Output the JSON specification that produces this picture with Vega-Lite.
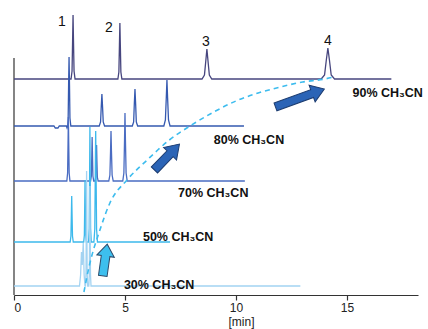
{
  "$schema": "https://vega.github.io/schema/vega-lite/v6.json",
  "width": 404,
  "height": 290,
  "autosize": "none",
  "padding": {"left": 14, "top": 5, "right": 10, "bottom": 34},
  "background": "white",
  "config": {"view": {"stroke": null}},
  "datasets": {
    "traces": [
      {"s":"90","t":0,"v":216},{"s":"90","t":2.57,"v":216},{"s":"90","t":2.615,"v":224},{"s":"90","t":2.64,"v":254},{"s":"90","t":2.66,"v":280},{"s":"90","t":2.68,"v":254},{"s":"90","t":2.705,"v":224},{"s":"90","t":2.75,"v":216},
      {"s":"90","t":4.68,"v":216},{"s":"90","t":4.725,"v":223},{"s":"90","t":4.75,"v":250},{"s":"90","t":4.77,"v":272},{"s":"90","t":4.79,"v":250},{"s":"90","t":4.815,"v":223},{"s":"90","t":4.86,"v":216},
      {"s":"90","t":8.47,"v":216},{"s":"90","t":8.58,"v":220},{"s":"90","t":8.64,"v":234},{"s":"90","t":8.69,"v":246},{"s":"90","t":8.74,"v":234},{"s":"90","t":8.8,"v":220},{"s":"90","t":8.91,"v":216},
      {"s":"90","t":13.84,"v":216},{"s":"90","t":13.99,"v":220},{"s":"90","t":14.07,"v":235},{"s":"90","t":14.14,"v":247},{"s":"90","t":14.21,"v":235},{"s":"90","t":14.29,"v":220},{"s":"90","t":14.44,"v":216},
      {"s":"90","t":17.0,"v":216},

      {"s":"80","t":0,"v":169},{"s":"80","t":1.8,"v":169},{"s":"80","t":1.86,"v":167},{"s":"80","t":1.98,"v":167},{"s":"80","t":2.04,"v":169},{"s":"80","t":2.36,"v":169},{"s":"80","t":2.39,"v":167},{"s":"80","t":2.42,"v":169},{"s":"80","t":2.44,"v":177},{"s":"80","t":2.46,"v":210},{"s":"80","t":2.48,"v":238},{"s":"80","t":2.5,"v":210},{"s":"80","t":2.52,"v":177},{"s":"80","t":2.56,"v":169},
      {"s":"80","t":3.84,"v":169},{"s":"80","t":3.9,"v":173},{"s":"80","t":3.93,"v":188},{"s":"80","t":3.96,"v":201},{"s":"80","t":3.99,"v":188},{"s":"80","t":4.02,"v":173},{"s":"80","t":4.08,"v":169},
      {"s":"80","t":5.33,"v":169},{"s":"80","t":5.39,"v":173},{"s":"80","t":5.42,"v":191},{"s":"80","t":5.45,"v":206},{"s":"80","t":5.48,"v":191},{"s":"80","t":5.51,"v":173},{"s":"80","t":5.57,"v":169},
      {"s":"80","t":6.75,"v":169},{"s":"80","t":6.82,"v":175},{"s":"80","t":6.86,"v":197},{"s":"80","t":6.89,"v":215},{"s":"80","t":6.92,"v":197},{"s":"80","t":6.96,"v":175},{"s":"80","t":7.03,"v":169},
      {"s":"80","t":10.36,"v":169},

      {"s":"70","t":0,"v":114},{"s":"70","t":2.38,"v":114},{"s":"70","t":2.415,"v":122},{"s":"70","t":2.435,"v":152},{"s":"70","t":2.45,"v":178},{"s":"70","t":2.465,"v":152},{"s":"70","t":2.485,"v":122},{"s":"70","t":2.52,"v":114},
      {"s":"70","t":3.45,"v":114},{"s":"70","t":3.485,"v":119},{"s":"70","t":3.505,"v":140},{"s":"70","t":3.52,"v":158},{"s":"70","t":3.535,"v":140},{"s":"70","t":3.555,"v":119},{"s":"70","t":3.59,"v":114},
      {"s":"70","t":3.65,"v":114},{"s":"70","t":3.685,"v":118},{"s":"70","t":3.705,"v":134},{"s":"70","t":3.72,"v":150},{"s":"70","t":3.735,"v":134},{"s":"70","t":3.755,"v":118},{"s":"70","t":3.79,"v":114},
      {"s":"70","t":4.27,"v":114},{"s":"70","t":4.32,"v":120},{"s":"70","t":4.35,"v":144},{"s":"70","t":4.37,"v":164},{"s":"70","t":4.39,"v":144},{"s":"70","t":4.42,"v":120},{"s":"70","t":4.47,"v":114},
      {"s":"70","t":4.9,"v":114},{"s":"70","t":4.95,"v":122},{"s":"70","t":4.98,"v":155},{"s":"70","t":5.0,"v":182},{"s":"70","t":5.02,"v":155},{"s":"70","t":5.05,"v":122},{"s":"70","t":5.1,"v":114},
      {"s":"70","t":10.4,"v":114},

      {"s":"50","t":0,"v":53},{"s":"50","t":2.53,"v":53},{"s":"50","t":2.565,"v":59},{"s":"50","t":2.585,"v":81},{"s":"50","t":2.6,"v":99},{"s":"50","t":2.615,"v":81},{"s":"50","t":2.635,"v":59},{"s":"50","t":2.67,"v":53},
      {"s":"50","t":3.14,"v":53},{"s":"50","t":3.17,"v":60},{"s":"50","t":3.187,"v":90},{"s":"50","t":3.2,"v":115},{"s":"50","t":3.213,"v":90},{"s":"50","t":3.23,"v":60},{"s":"50","t":3.26,"v":53},
      {"s":"50","t":3.36,"v":53},{"s":"50","t":3.39,"v":67},{"s":"50","t":3.407,"v":122},{"s":"50","t":3.42,"v":168},{"s":"50","t":3.433,"v":122},{"s":"50","t":3.45,"v":67},{"s":"50","t":3.48,"v":53},
      {"s":"50","t":3.6,"v":53},{"s":"50","t":3.64,"v":66},{"s":"50","t":3.662,"v":120},{"s":"50","t":3.68,"v":164},{"s":"50","t":3.698,"v":120},{"s":"50","t":3.72,"v":66},{"s":"50","t":3.76,"v":53},
      {"s":"50","t":7.03,"v":53},

      {"s":"30","t":0,"v":9},{"s":"30","t":2.95,"v":9},{"s":"30","t":3.0,"v":20},{"s":"30","t":3.04,"v":43},{"s":"30","t":3.075,"v":30},{"s":"30","t":3.12,"v":52},{"s":"30","t":3.16,"v":20},{"s":"30","t":3.2,"v":9},
      {"s":"30","t":3.22,"v":9},{"s":"30","t":3.245,"v":23},{"s":"30","t":3.26,"v":75},{"s":"30","t":3.27,"v":124},{"s":"30","t":3.28,"v":75},{"s":"30","t":3.295,"v":23},{"s":"30","t":3.32,"v":9},
      {"s":"30","t":3.37,"v":9},{"s":"30","t":3.395,"v":21},{"s":"30","t":3.41,"v":69},{"s":"30","t":3.42,"v":109},{"s":"30","t":3.43,"v":69},{"s":"30","t":3.445,"v":21},{"s":"30","t":3.47,"v":9},
      {"s":"30","t":12.9,"v":9}
    ],
    "curve": [
      {"t":3.15,"v":3},{"t":3.4,"v":30},{"t":3.87,"v":65},{"t":4.32,"v":92},{"t":5.09,"v":115},{"t":6.0,"v":135},{"t":7.0,"v":155},{"t":8.0,"v":170},{"t":9.0,"v":183},{"t":10.0,"v":194},{"t":11.0,"v":202},{"t":12.0,"v":208},{"t":13.0,"v":213},{"t":14.0,"v":216},{"t":14.4,"v":218}
    ],
    "arrows": [
      {"a":"up","t":4.1,"v":35},
      {"a":"mid","t":6.89,"v":138},
      {"a":"top","t":12.88,"v":197}
    ],
    "labels": [
      {"label":"90% CH₃CN","t":15.25,"v":202},
      {"label":"80% CH₃CN","t":9.0,"v":155},
      {"label":"70% CH₃CN","t":7.39,"v":102},
      {"label":"50% CH₃CN","t":5.81,"v":58},
      {"label":"30% CH₃CN","t":4.95,"v":10}
    ],
    "peaks": [
      {"n":"1","t":2.16,"v":273},
      {"n":"2","t":4.28,"v":267},
      {"n":"3","t":8.65,"v":253},
      {"n":"4","t":14.14,"v":254}
    ],
    "yaxis": [{"t":0,"v":0,"v2":237}]
  },
  "encoding": {
    "x": {
      "field": "t", "type": "quantitative",
      "scale": {"domain": [0, 18.2], "nice": false, "zero": false},
      "axis": {
        "values": [0, 5, 10, 15], "grid": false,
        "domainColor": "#333", "domainWidth": 1.2,
        "tickColor": "#333", "tickSize": 5, "tickWidth": 1.2,
        "labelFont": "Liberation Sans", "labelFontSize": 12, "labelColor": "#222", "labelPadding": 2,
        "title": "[min]", "titleFont": "Liberation Sans", "titleFontSize": 12, "titleFontWeight": "normal", "titleColor": "#222",
        "titleX": 227, "titleY": 21, "titleAlign": "center", "titleBaseline": "top"
      }
    },
    "y": {
      "field": "v", "type": "quantitative",
      "scale": {"domain": [0, 290], "nice": false, "zero": false},
      "axis": null
    }
  },
  "layer": [
    {
      "data": {"name": "yaxis"},
      "mark": {"type": "rule", "color": "#333", "strokeWidth": 1.2},
      "encoding": {"y2": {"field": "v2"}}
    },
    {
      "data": {"name": "traces"},
      "mark": {"type": "line", "strokeWidth": 1.3, "interpolate": "linear"},
      "encoding": {
        "color": {
          "field": "s", "type": "nominal", "legend": null,
          "scale": {"domain": ["30", "50", "70", "80", "90"], "range": ["#a3d3f2", "#3cb9ec", "#4a6cc2", "#3559b0", "#47467f"]}
        },
        "order": {"field": "t", "type": "quantitative"}
      }
    },
    {
      "data": {"name": "curve"},
      "mark": {"type": "line", "color": "#3dbcee", "strokeWidth": 1.6, "strokeDash": [5, 4], "interpolate": "monotone"},
      "encoding": {}
    },
    {
      "data": {"name": "arrows"},
      "transform": [{"filter": "datum.a === 'up'"}],
      "mark": {"type": "point", "filled": true, "shape": "M-1,-0.27L0.25,-0.27L0.25,-0.55L1,0L0.25,0.55L0.25,0.27L-1,0.27Z", "size": 1024, "angle": 278, "color": "#3dbfee", "stroke": "#2d4a6a", "strokeWidth": 1, "opacity": 1}
    },
    {
      "data": {"name": "arrows"},
      "transform": [{"filter": "datum.a === 'mid'"}],
      "mark": {"type": "point", "filled": true, "shape": "M-1,-0.24L0.25,-0.24L0.25,-0.5L1,0L0.25,0.5L0.25,0.24L-1,0.24Z", "size": 1296, "angle": 314, "color": "#2b64b6", "stroke": "#1c3c70", "strokeWidth": 1, "opacity": 1}
    },
    {
      "data": {"name": "arrows"},
      "transform": [{"filter": "datum.a === 'top'"}],
      "mark": {"type": "point", "filled": true, "shape": "M-1,-0.16L0.5,-0.16L0.5,-0.34L1,0L0.5,0.34L0.5,0.16L-1,0.16Z", "size": 2704, "angle": 340, "color": "#2b64b6", "stroke": "#1c3c70", "strokeWidth": 1, "opacity": 1}
    },
    {
      "data": {"name": "labels"},
      "mark": {"type": "text", "align": "left", "baseline": "middle", "font": "Liberation Sans", "fontSize": 12.5, "fontWeight": "bold", "color": "#111"},
      "encoding": {"text": {"field": "label"}}
    },
    {
      "data": {"name": "peaks"},
      "mark": {"type": "text", "align": "center", "baseline": "middle", "font": "Liberation Sans", "fontSize": 14, "color": "#111"},
      "encoding": {"text": {"field": "n"}}
    }
  ]
}
